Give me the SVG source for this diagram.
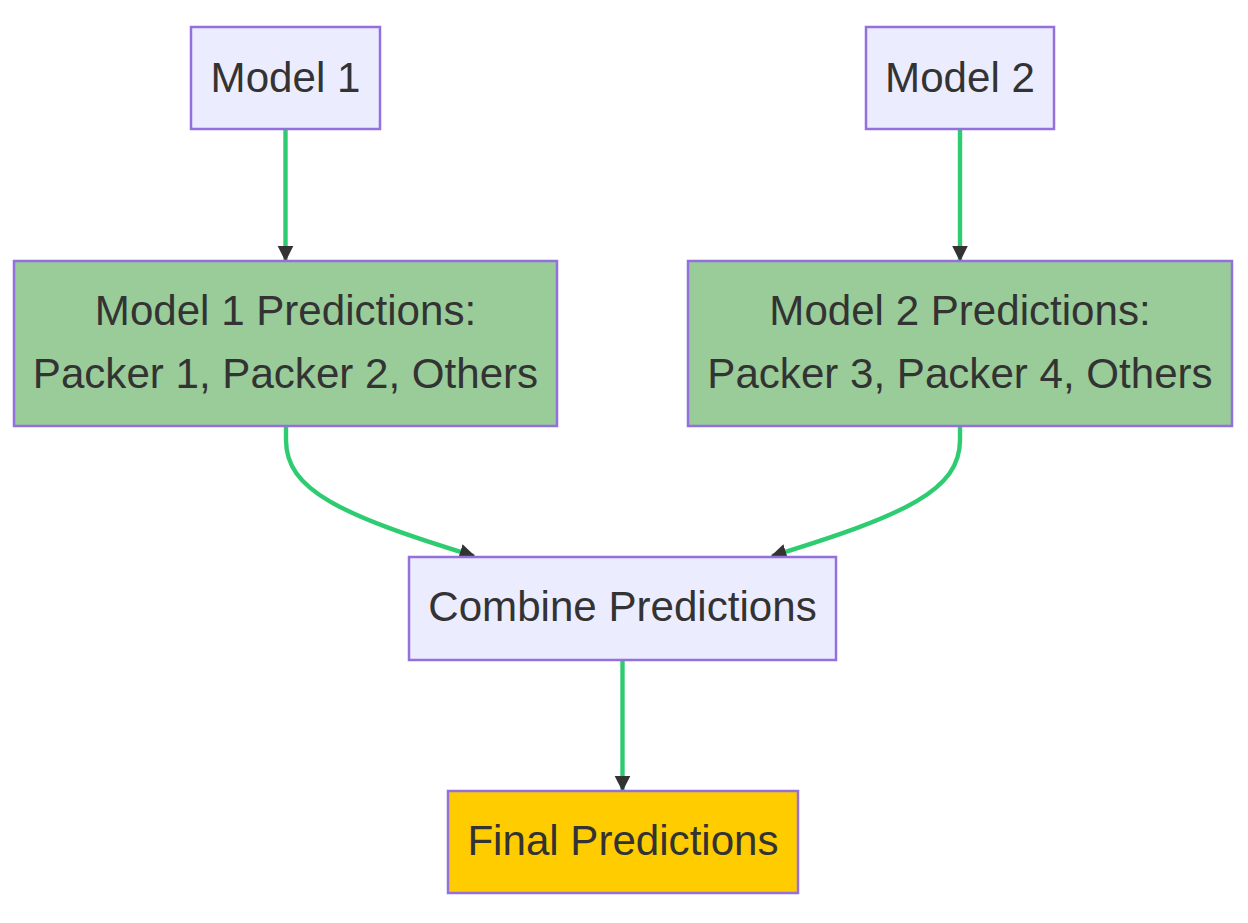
<svg xmlns="http://www.w3.org/2000/svg" width="1248" height="923" viewBox="0 0 1248 923">
<style>
.node rect{stroke:#9370DB;stroke-width:2.5}
.lav{fill:#ECECFF}
.grn{fill:#99CC99}
.gold{fill:#FFCC00}
.lbl{font-family:"Liberation Sans",Arial,sans-serif;font-size:42.1px;fill:#333333;text-anchor:middle;dominant-baseline:central}
.edge{fill:none;stroke:#2ECC71;stroke-width:4.4}
</style>
<defs>
<marker id="arr" viewBox="0 0 10 10" refX="9" refY="5" markerUnits="userSpaceOnUse" markerWidth="16" markerHeight="17" orient="auto">
<path d="M0,0 L10,5 L0,10 z" fill="#333333"/>
</marker>
</defs>
<rect width="1248" height="923" fill="#FFFFFF"/>
<g id="connectors">
<path class="edge" d="M285.5,130 L285.5,260" marker-end="url(#arr)"/>
<path class="edge" d="M960,130 L960,260" marker-end="url(#arr)"/>
<path class="edge" d="M286,427 L286,440 C286,490 340,515 474,556" marker-end="url(#arr)"/>
<path class="edge" d="M960,427 L960,440 C960,490 906,515 772,556" marker-end="url(#arr)"/>
<path class="edge" d="M622.5,661 L622.5,790" marker-end="url(#arr)"/>
</g>
<g id="model1" class="node">
<rect class="lav" x="191" y="27" width="189" height="102"/>
<text class="lbl" x="285.5" y="77">Model 1</text>
</g>
<g id="model2" class="node">
<rect class="lav" x="866" y="27" width="188" height="102"/>
<text class="lbl" x="960" y="77">Model 2</text>
</g>
<g id="pred1" class="node">
<rect class="grn" x="14" y="261" width="543" height="165"/>
<text class="lbl" x="285.5" y="310">Model 1 Predictions:</text>
<text class="lbl" x="285.5" y="373">Packer 1, Packer 2, Others</text>
</g>
<g id="pred2" class="node">
<rect class="grn" x="688" y="261" width="544" height="165"/>
<text class="lbl" x="960" y="310">Model 2 Predictions:</text>
<text class="lbl" x="960" y="373">Packer 3, Packer 4, Others</text>
</g>
<g id="combine" class="node">
<rect class="lav" x="409" y="557" width="427" height="103"/>
<text class="lbl" x="622.5" y="606">Combine Predictions</text>
</g>
<g id="final" class="node">
<rect class="gold" x="448" y="791" width="350" height="102"/>
<text class="lbl" x="623" y="840">Final Predictions</text>
</g>
</svg>
